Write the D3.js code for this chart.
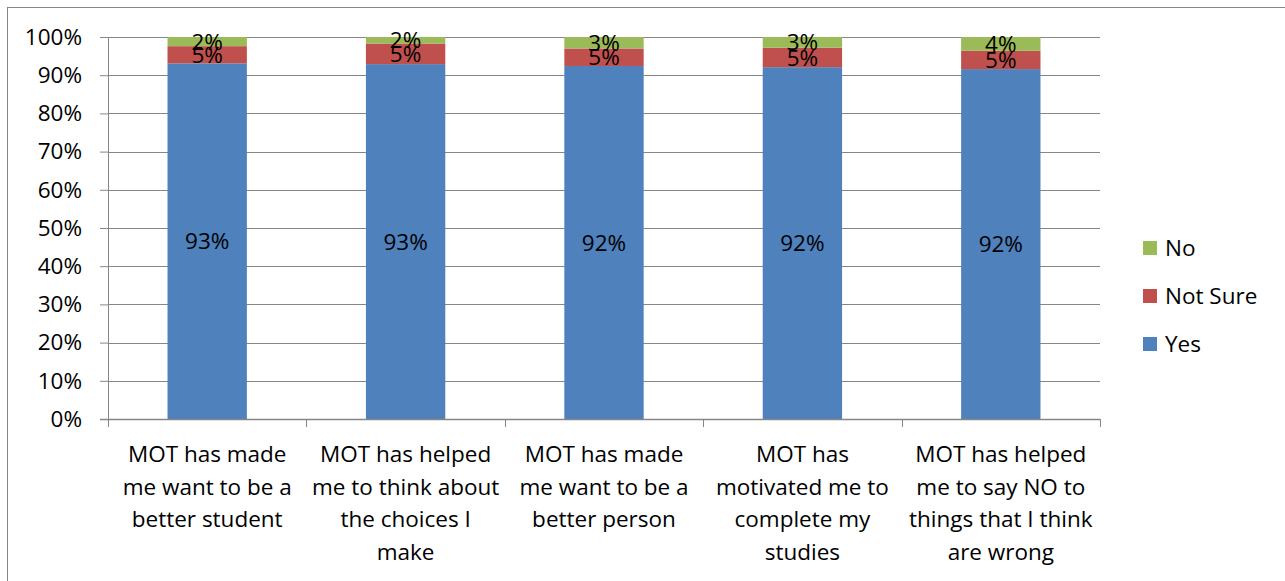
<!DOCTYPE html>
<html lang="en">
  <head>
    <meta charset="utf-8">
    <title>MOT survey</title>
    <script src="https://d3js.org/d3.v7.min.js"></script>
    <style>
      body { margin: 0; background: #fff; }
      text { font-family: "Open Sans", Lato, sans-serif; fill: #000; }
    </style>
  </head>
  <body>
    <div id="chart"></div>
    <script>
      // categories, wrapped the way they show under the axis
      var categories = [
        "MOT has made me want to be a better student",
        "MOT has helped me to think about the choices I make",
        "MOT has made me want to be a better person",
        "MOT has motivated me to complete my studies",
        "MOT has helped me to say NO to things that I think are wrong"
      ];
      var categoryLines = [
        ["MOT has made", "me want to be a", "better student"],
        ["MOT has helped", "me to think about", "the choices I", "make"],
        ["MOT has made", "me want to be a", "better person"],
        ["MOT has", "motivated me to", "complete my", "studies"],
        ["MOT has helped", "me to say NO to", "things that I think", "are wrong"]
      ];
      var seriesNames = ["Yes", "Not Sure", "No"];
      var yesValues = [93.1, 92.9, 92.4, 92.1, 91.6];
      var notSureValues = [4.5, 5.4, 4.6, 5.1, 4.8];
      var noValues = [2.4, 1.7, 3.0, 2.8, 3.6];
      var yTicks = [0, 10, 20, 30, 40, 50, 60, 70, 80, 90, 100];

      var COLORS = {"Yes": "#4F81BD", "Not Sure": "#C0504D", "No": "#9BBB59"};
      var GRID = "#868686";
      var FONT_SIZE = 22.5;

      var w = 1285, h = 581;
      var margin = {top: 37, right: 185, bottom: 162, left: 108};
      var innerWidth = w - margin.left - margin.right;
      var innerHeight = h - margin.top - margin.bottom;

      var rows = categories.map(function(c, i) {
        return {cat: c, "Yes": yesValues[i], "Not Sure": notSureValues[i], "No": noValues[i]};
      });
      var stacked = d3.stack().keys(seriesNames)(rows);

      var svg = d3.select("#chart").append("svg")
        .attr("width", w)
        .attr("height", h);

      // outer chart border
      svg.append("rect")
        .attr("x", 7.5).attr("y", 7.5)
        .attr("width", w + 20).attr("height", h + 20)
        .attr("fill", "none")
        .attr("stroke", GRID);

      var g = svg.append("g")
        .attr("transform", `translate(${margin.left},${margin.top})`);

      var xScale = d3.scaleBand()
        .domain(categories)
        .range([0, innerWidth])
        .paddingInner(0.6)
        .paddingOuter(0.3);

      var yScale = d3.scaleLinear()
        .domain([0, 100])
        .range([innerHeight, 0]);

      // gridlines
      g.append("g").selectAll("line")
        .data(yTicks.filter(function(t) { return t > 0; }))
        .join("line")
          .attr("x1", 0).attr("x2", innerWidth)
          .attr("y1", function(d) { return Math.round(yScale(d)) + 0.5; })
          .attr("y2", function(d) { return Math.round(yScale(d)) + 0.5; })
          .attr("stroke", GRID);

      // y axis
      var yAxis = d3.axisLeft(yScale)
        .tickValues(yTicks)
        .tickSize(8)
        .tickPadding(18)
        .tickFormat(function(d) { return d + "%"; });
      var yg = g.append("g").call(yAxis);
      yg.select(".domain").attr("stroke", GRID).attr("d", `M0.5,0V${innerHeight}`);
      yg.selectAll(".tick line").attr("stroke", GRID);
      yg.selectAll(".tick text")
        .attr("font-size", FONT_SIZE)
        .style("font-family", "'Open Sans', sans-serif");

      // bars
      var layers = g.append("g").selectAll("g")
        .data(stacked)
        .join("g")
          .attr("fill", function(d) { return COLORS[d.key]; });

      layers.selectAll("rect")
        .data(function(d) { return d; })
        .join("rect")
          .attr("x", function(d) { return xScale(d.data.cat); })
          .attr("width", xScale.bandwidth())
          .attr("y", function(d) { return yScale(d[1]); })
          .attr("height", function(d) { return yScale(d[0]) - yScale(d[1]); });

      // x axis
      var xg = g.append("g")
        .attr("transform", `translate(0,${innerHeight})`);
      xg.append("line")
        .attr("x1", -8).attr("x2", innerWidth)
        .attr("y1", 0.5).attr("y2", 0.5)
        .attr("stroke", GRID).attr("stroke-width", 1.5);
      xg.selectAll(".xtick")
        .data(d3.range(categories.length + 1))
        .join("line")
          .attr("class", "xtick")
          .attr("x1", function(i) { return Math.round(i * innerWidth / categories.length) + 0.5; })
          .attr("x2", function(i) { return Math.round(i * innerWidth / categories.length) + 0.5; })
          .attr("y1", 0).attr("y2", 8)
          .attr("stroke", GRID);

      xg.selectAll(".xlabel")
        .data(categories)
        .join("text")
          .attr("class", "xlabel")
          .attr("text-anchor", "middle")
          .attr("font-size", FONT_SIZE)
          .attr("transform", function(d) { return `translate(${xScale(d) + xScale.bandwidth() / 2},0)`; })
          .each(function(d, i) {
            var t = d3.select(this);
            categoryLines[i].forEach(function(line, j) {
              t.append("tspan")
                .attr("x", 0)
                .attr("y", 43 + j * 32.5)
                .text(line);
            });
          });

      // data labels
      layers.selectAll("text")
        .data(function(d) { return d; })
        .join("text")
          .attr("x", function(d) { return xScale(d.data.cat) + xScale.bandwidth() / 2; })
          .attr("y", function(d) { return (yScale(d[0]) + yScale(d[1])) / 2; })
          .attr("dy", "0.36em")
          .attr("text-anchor", "middle")
          .attr("font-size", FONT_SIZE)
          .style("fill", "#000")
          .text(function(d) { return Math.round(d[1] - d[0]) + "%"; });

      // legend
      var legend = svg.append("g")
        .attr("transform", "translate(1143,248)");
      var legendOrder = ["No", "Not Sure", "Yes"];
      var li = legend.selectAll("g")
        .data(legendOrder)
        .join("g")
          .attr("transform", function(d, i) { return `translate(0,${i * 48})`; });
      li.append("rect")
        .attr("x", 0).attr("y", -7)
        .attr("width", 14).attr("height", 14)
        .attr("fill", function(d) { return COLORS[d]; });
      li.append("text")
        .attr("x", 22)
        .attr("dy", "0.36em")
        .attr("font-size", FONT_SIZE)
        .text(function(d) { return d; });
    </script>
  </body>
</html>
